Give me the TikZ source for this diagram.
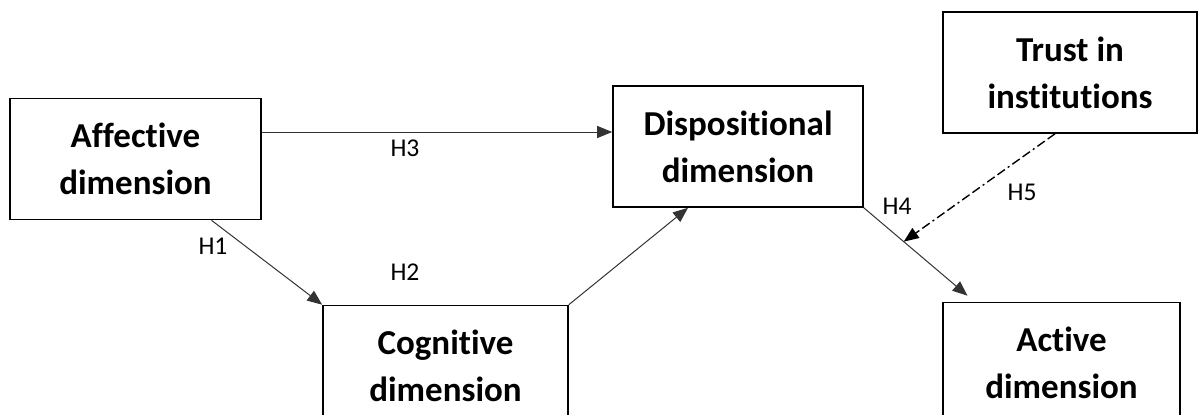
\documentclass[tikz,border=0pt]{standalone}
\usepackage{fontspec}
\setmainfont{Carlito}[Ligatures={TeX,NoCommon}]
\usetikzlibrary{arrows.meta,positioning}

\begin{document}
\begin{tikzpicture}[x=0.5pt,y=-0.5pt,
  dim/.style={draw, line width=0.8pt, font=\fontsize{17.5}{23.5}\selectfont\bfseries, align=center, minimum height=60.5pt, inner sep=0pt},
  conn/.style={-{Triangle[length=7.5pt,width=6pt]}, draw=black!80, line width=0.5pt},
  trustline/.style={conn, draw=black, line width=0.7pt, dash pattern=on 4.5pt off 1.8pt on 4.5pt off 1.8pt on 1pt off 1.8pt},
  hyp/.style={font=\fontsize{12.8}{15}\selectfont, inner sep=0pt}
]

\useasboundingbox (0,0) rectangle (1198,414);
\clip (0,0) rectangle (1198,414);

% boxes
\node[dim, minimum width=125.5pt] (aff) at (135.5,159) {Affective\\dimension};
\node[dim, minimum width=125pt] (disp) at (738,146.5) {Dispositional\\dimension};
\node[dim, minimum width=127pt] (trust) at (1070,72.5) {Trust in\\institutions};
\node[dim, minimum width=122.5pt] (cog) at (445.5,366) {Cognitive\\dimension};
\node[dim, minimum width=118.5pt] (act) at (1061.5,363) {Active\\dimension};

% hypotheses
\draw[conn] ([yshift=13.5pt]aff.east) -- ([yshift=13.5pt]aff.east -| disp.west);
\draw[conn] ([xshift=38pt]aff.south) -- (cog.north west);
\draw[conn] (cog.north east) -- ([xshift=-25pt]disp.south);
\draw[conn] (disp.south east) -- coordinate[pos=0.385] (mod) ([xshift=-47pt,yshift=3pt]act.north);
\draw[trustline] ([xshift=-7.5pt]trust.south) -- (mod);

\node[hyp] (h1) at (213,246) {H1};
\node[hyp] (h2) at (405,272) {H2};
\node[hyp] (h3) at (405,148) {H3};
\node[hyp] (h4) at (897,206) {H4};
\node[hyp] (h5) at (1022,192) {H5};

\end{tikzpicture}
\end{document}
